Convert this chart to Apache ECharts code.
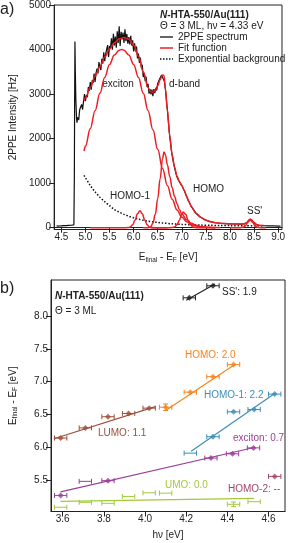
<!DOCTYPE html>
<html><head><meta charset="utf-8">
<script src="https://cdn.jsdelivr.net/npm/echarts@6/dist/echarts.min.js"></script>
<style>html,body{margin:0;padding:0;background:#fff}#c{width:288px;height:543px}</style>
</head><body><div id="c"></div>
<script>
const FONT = "'Liberation Sans', Arial, sans-serif";

// ---------- Panel a data (E_final - E_F [eV], intensity [Hz]) ----------
const spectrum = [
[4.40,40],[4.45,38],[4.50,42],[4.55,45],[4.60,48],[4.65,52],[4.70,55],[4.74,60],[4.76,65],[4.77,1200],[4.775,2800],[4.782,4180],[4.79,3500],[4.80,2900],[4.815,2450],[4.825,2360],[4.835,2480],
[4.84,2440],[4.86,2420],[4.88,2650],[4.90,2610],[4.92,2770],[4.94,2650],[4.96,2840],[4.98,3000],[5.00,2840],[5.02,2980],[5.04,2930],[5.06,3160],[5.08,3070],[5.10,3270],[5.12,3100],[5.14,3310],[5.16,3250],[5.18,3460],[5.20,3270],[5.22,3475],[5.24,3570],[5.26,3465],[5.28,3720],[5.30,3600],[5.32,3540],[5.34,3790],[5.36,3685],[5.38,3940],[5.40,3740],[5.42,3905],[5.44,3870],[5.46,4100],[5.48,3835],[5.50,4080],[5.52,4030],[5.54,4250],[5.56,3995],[5.58,4355],[5.60,4090],[5.62,4290],[5.64,4040],[5.66,4410],[5.68,4145],[5.70,4520],[5.72,4080],[5.74,4400],[5.76,4225],[5.78,4380],[5.80,4150],[5.82,4455],[5.84,4190],[5.86,4350],[5.88,4130],[5.90,4280],[5.92,4115],[5.94,4310],[5.96,4090],[5.98,4205],[6.00,3960],[6.02,4140],[6.04,3960],[6.06,4070],[6.08,3800],[6.10,3910],[6.12,3700],[6.14,3820],[6.16,3590],[6.18,3660],[6.20,3380],[6.22,3470],[6.24,3290],[6.26,3390],[6.28,3160],[6.30,3230],[6.32,3010],[6.34,3110],[6.36,2995],[6.38,3100],[6.40,2955],[6.42,3110],[6.44,3020],[6.46,3140],[6.48,3080],[6.50,3240],[6.52,3210],[6.54,3340],[6.56,3310],[6.58,3430],[6.60,3460],[6.62,3460],[6.64,3280],[6.66,3110],
[6.68,2880],[6.70,2650],[6.72,2400],[6.74,2160],[6.76,1950],[6.78,1770],[6.80,1620],[6.82,1500],[6.84,1400],[6.86,1300],[6.88,1210],[6.90,1140],[6.92,1090],[6.94,1050],[6.96,1010],[6.98,980],[7.00,950],[7.04,860],[7.08,760],[7.12,650],[7.16,560],[7.20,470],[7.25,390],[7.30,320],[7.35,270],[7.40,230],[7.45,195],[7.50,170],[7.60,135],[7.70,112],[7.80,100],[7.90,93],[8.00,88],[8.10,84],[8.20,82],[8.30,86],[8.35,110],[8.40,175],[8.42,190],[8.45,170],[8.50,110],[8.55,70],[8.60,52],[8.70,45],[8.80,42],[8.90,40],[9.00,38],[9.05,38]
];
const fitTotal = [[4.97,2850],[5.0,2915],[5.1,3150],[5.2,3400],[5.3,3620],[5.4,3830],[5.5,4010],[5.6,4150],[5.7,4240],[5.8,4270],[5.9,4230],[6.0,4100],[6.1,3850],[6.2,3500],[6.3,3150],[6.35,3050],[6.4,3035],[6.45,3085],[6.5,3190],[6.55,3320],[6.6,3430],[6.63,3420],[6.66,3120],[6.7,2650],[6.75,2060],[6.8,1640],[6.85,1360],[6.9,1160],[6.95,1040],[7.0,950],[7.05,840],[7.1,700],[7.15,580],[7.2,470],[7.3,320],[7.4,230],[7.5,170],[7.6,132],[7.7,110],[7.8,98],[8.0,88],[8.2,82],[8.3,88],[8.35,115],[8.4,180],[8.42,195],[8.45,175],[8.5,115],[8.55,72],[8.6,55],[8.7,48]];
const fitExciton = [[4.97,1720],[5.0,1832],[5.1,2224],[5.2,2628],[5.3,3020],[5.4,3374],[5.5,3667],[5.6,3877],[5.7,3986],[5.76,4000],[5.8,3986],[5.9,3877],[6.0,3667],[6.1,3374],[6.2,3020],[6.3,2628],[6.4,2200],[6.5,1760],[6.6,1330],[6.7,950],[6.8,640],[6.9,400],[7.0,240],[7.1,135],[7.2,72],[7.3,36],[7.4,17],[7.5,8],[7.6,3],[7.7,0]];
const fitDband = [[6.2,0],[6.3,2],[6.35,15],[6.4,100],[6.45,300],[6.5,650],[6.55,1100],[6.6,1550],[6.63,1700],[6.66,1640],[6.7,1420],[6.75,1150],[6.8,900],[6.85,700],[6.9,540],[6.95,410],[7.0,310],[7.1,180],[7.2,100],[7.3,55],[7.4,30],[7.5,15],[7.6,8],[7.7,3],[7.8,0]];
const fitHomo1 = [[5.1,0],[5.5,0],[5.85,2],[5.9,6],[5.93,17],[5.98,65],[6.03,174],[6.08,313],[6.13,380],[6.18,313],[6.23,174],[6.28,65],[6.33,17],[6.38,3],[6.45,0],[6.7,0]];
const fitHomo = [[6.35,0],[6.7,0],[6.8,3],[6.85,17],[6.9,65],[6.95,170],[7.0,300],[7.03,355],[7.08,300],[7.13,170],[7.18,65],[7.23,17],[7.28,3],[7.35,0],[7.7,0]];
const fitSS = [[8.0,0],[8.2,0],[8.27,8],[8.32,44],[8.37,124],[8.42,175],[8.47,124],[8.52,44],[8.57,8],[8.65,0],[8.75,0]];
const expBackground = [[4.97,1175],[5.0,1120],[5.1,950],[5.2,805],[5.3,685],[5.4,585],[5.5,495],[5.6,410],[5.7,350],[5.8,300],[5.9,258],[6.0,222],[6.1,192],[6.2,168],[6.3,148],[6.4,132],[6.5,118],[6.6,106],[6.8,88],[7.0,75],[7.2,66],[7.4,59],[7.6,54],[7.8,50],[8.0,47],[8.3,44],[8.7,41]];
const ticksAx = [4.5,5.0,5.5,6.0,6.5,7.0,7.5,8.0,8.5,9.0];
const ticksAy = [0,1000,2000,3000,4000,5000];
const legendNames = ['2PPE spectrum','Fit function','Exponential background'];

// ---------- Panel b data (hv [eV], E_final - E_F [eV]); [x, y, xerr, yerr] ----------
const lumoPts   = [[3.59,6.14,0.03,0],[3.71,6.295,0.03,0],[3.82,6.465,0.03,0],[3.92,6.515,0.03,0],[4.02,6.596,0.03,0]];
const lumoFit   = [[3.557,6.13],[4.05,6.62]];
const homoPts   = [[4.10,6.61,0.03,0.05],[4.22,6.84,0.03,0],[4.33,7.075,0.03,0],[4.43,7.26,0.03,0]];
const homoFit   = [[4.10,6.56],[4.44,7.27]];
const homo1Pts  = [[4.22,5.91,0.03,0],[4.33,6.16,0.03,0],[4.43,6.54,0.03,0],[4.53,6.575,0.03,0],[4.63,6.81,0.03,0]];
const homo1Fit  = [[4.224,5.94],[4.63,6.82]];
const excitonPts= [[3.59,5.265,0.03,0],[3.71,5.48,0.03,0],[3.82,5.49,0.03,0],[4.32,5.835,0.03,0],[4.425,5.90,0.03,0],[4.527,5.99,0.03,0]];
const excitonFit= [[3.589,5.32],[4.535,6.0]];
const homo2Pts  = [[4.63,5.555,0.03,0]];
const umoPts    = [[3.59,5.085,0.03,0],[3.71,5.16,0.03,0],[3.82,5.145,0.03,0],[3.92,5.25,0.03,0],[4.02,5.305,0.03,0],[4.10,5.30,0.03,0],[4.43,5.13,0.03,0.035],[4.53,5.17,0.03,0]];
const umoFit    = [[3.589,5.175],[4.53,5.22]];
const ssPts     = [[4.215,8.278,0.03,0],[4.33,8.462,0.03,0]];
const ssFit     = [[4.20,8.24],[4.34,8.49]];
// indices of points drawn with a filled marker
const lumoFilled = [0,1,2,3,4];
const homoFilled = [0,1,2,3];
const homo1Filled = [1,2,3,4];
const excitonFilled = [0,2,3,4,5];
const homo2Filled = [0];
const umoFilled = [];
const ssFilled = [0,1];
const ticksBx = [3.6,3.8,4.0,4.2,4.4,4.6];
const ticksBy = [5.5,6.0,6.5,7.0,7.5,8.0];

const RED = '#ee1d23';
const C = {lumo:'#9e4f3a', homo:'#f7831f', homo1:'#3d8db5', exciton:'#9a3f98', homo2:'#a0456a', umo:'#a3c93a', ss:'#222'};

const chart = echarts.init(document.getElementById('c'), null, {renderer:'canvas'});

const lineS = (data, color, w, extra) => Object.assign({type:'line', data, xAxisIndex:0, yAxisIndex:0, symbol:'none', showSymbol:false, lineStyle:{color, width:w}, itemStyle:{color}, animation:false}, extra||{});

function errSeries(points, color){
  return {
    type:'custom', xAxisIndex:1, yAxisIndex:1, data:points, animation:false, z:4,
    encode:{x:0, y:1},
    renderItem:function(params, api){
      const x=api.value(0), y=api.value(1), ex=api.value(2), ey=api.value(3);
      const c=api.coord([x,y]), l=api.coord([x-ex,y]), r=api.coord([x+ex,y]);
      const cap=2.5, st={stroke:color, lineWidth:1};
      const ch=[
        {type:'line', shape:{x1:l[0],y1:c[1],x2:r[0],y2:c[1]}, style:st},
        {type:'line', shape:{x1:l[0],y1:c[1]-cap,x2:l[0],y2:c[1]+cap}, style:st},
        {type:'line', shape:{x1:r[0],y1:c[1]-cap,x2:r[0],y2:c[1]+cap}, style:st}
      ];
      if (ey>0){
        const t=api.coord([x,y+ey]), b=api.coord([x,y-ey]);
        ch.push({type:'line', shape:{x1:c[0],y1:t[1],x2:c[0],y2:b[1]}, style:st});
        ch.push({type:'line', shape:{x1:c[0]-cap,y1:t[1],x2:c[0]+cap,y2:t[1]}, style:st});
        ch.push({type:'line', shape:{x1:c[0]-cap,y1:b[1],x2:c[0]+cap,y2:b[1]}, style:st});
      }
      return {type:'group', children:ch};
    }
  };
}
function markerSeries(points, idx, color){
  return {type:'scatter', xAxisIndex:1, yAxisIndex:1, data: idx.map(i=>[points[i][0], points[i][1]]),
    symbol:'diamond', symbolSize:6, itemStyle:{color}, animation:false, z:5};
}
function fitSeries(data, color){
  return {type:'line', xAxisIndex:1, yAxisIndex:1, data, symbol:'none', lineStyle:{color, width:1.2}, animation:false, z:3};
}
function group(pts, fit, filled, color){
  const out=[errSeries(pts,color), markerSeries(pts,filled,color)];
  if (fit) out.unshift(fitSeries(fit,color));
  return out;
}

const axisCommon = {
  axisLine:{show:true, lineStyle:{color:'#222', width:1}},
  splitLine:{show:false},
  axisTick:{show:true, inside:false, length:5, lineStyle:{color:'#222'}},
  axisLabel:{fontFamily:FONT, fontSize:10, color:'#222', margin:3}
};
const richSub = {
  n:{fontFamily:FONT, fontSize:10, color:'#222', lineHeight:12},
  s:{fontFamily:FONT, fontSize:6.5, color:'#222', verticalAlign:'bottom', lineHeight:8, padding:[4,0,0,0]}
};

const txt = (x,y,text,color,extra) => ({type:'text', x, y, silent:true, style:Object.assign({text, fill:color||'#222', font:'10px '+FONT, align:'left', verticalAlign:'middle'}, extra||{})});
const seg = (x1,y,x2,color,w,dash) => ({type:'line', silent:true, shape:{x1,y1:y,x2,y2:y}, style:{stroke:color, lineWidth:w, lineDash:dash||null}});
const titleRich = {i:{fontFamily:FONT, fontSize:10, fontWeight:'bold', fontStyle:'italic', fill:'#222'}, b:{fontFamily:FONT, fontSize:10, fontWeight:'bold', fill:'#222'}};

const option = {
  animation:false,
  backgroundColor:'#fff',
  grid:[
    {left:49.3, right:2.5, top:4, bottom:313.5, show:true, borderColor:'#222', borderWidth:1, backgroundColor:'transparent'},
    {left:49, right:3, top:280, bottom:31.5, show:true, borderColor:'#222', borderWidth:1, backgroundColor:'transparent'}
  ],
  xAxis:[
    Object.assign({}, axisCommon, {type:'value', gridIndex:0, min:4.35, max:9.08,
      axisTick:Object.assign({}, axisCommon.axisTick, {customValues:ticksAx}),
      axisLabel:Object.assign({}, axisCommon.axisLabel, {customValues:ticksAx, formatter:v=>v.toFixed(1)}),
      name:'{n|E}{s|final}{n| - E}{s|F}{n| [eV]}', nameLocation:'middle', nameGap:22,
      nameTextStyle:{rich:richSub}}),
    Object.assign({}, axisCommon, {type:'value', gridIndex:1, min:3.543, max:4.68,
      axisTick:Object.assign({}, axisCommon.axisTick, {customValues:ticksBx}),
      axisLabel:Object.assign({}, axisCommon.axisLabel, {customValues:ticksBx, formatter:v=>v.toFixed(1)}),
      name:'hν [eV]', nameLocation:'middle', nameGap:19,
      nameTextStyle:{fontFamily:FONT, fontSize:10, color:'#222'}})
  ],
  yAxis:[
    Object.assign({}, axisCommon, {type:'value', gridIndex:0, min:-40, max:5000,
      axisTick:Object.assign({}, axisCommon.axisTick, {customValues:ticksAy}),
      axisLabel:Object.assign({}, axisCommon.axisLabel, {customValues:ticksAy, formatter:v=>String(v)}),
      name:'2PPE Intensity [Hz]', nameLocation:'middle', nameGap:33,
      nameTextStyle:{fontFamily:FONT, fontSize:10, color:'#222'}}),
    Object.assign({}, axisCommon, {type:'value', gridIndex:1, min:5.02, max:8.55,
      axisTick:Object.assign({}, axisCommon.axisTick, {customValues:ticksBy}),
      axisLabel:Object.assign({}, axisCommon.axisLabel, {customValues:ticksBy, formatter:v=>v.toFixed(1)}),
      name:'{n|E}{s|final}{n| - E}{s|F}{n| [eV]}', nameLocation:'middle', nameGap:32,
      nameTextStyle:{rich:richSub}})
  ],
  series:[
    lineS(spectrum, '#111', 1.2, {name:legendNames[0], z:2}),
    lineS(expBackground, '#111', 1.5, {name:legendNames[2], lineStyle:{color:'#111', width:1.5, type:[1.5,1.8]}, z:3, smooth:0.3}),
    lineS(fitExciton, RED, 1.5, {z:4, smooth:0.4, smoothMonotone:'x'}),
    lineS(fitDband, RED, 1.5, {z:4, smooth:0.4, smoothMonotone:'x'}),
    lineS(fitHomo1, RED, 1.5, {z:4, smooth:0.4, smoothMonotone:'x'}),
    lineS(fitHomo, RED, 1.5, {z:4, smooth:0.4, smoothMonotone:'x'}),
    lineS(fitSS, RED, 1.5, {z:4, smooth:0.4, smoothMonotone:'x'}),
    lineS(fitTotal, RED, 1.5, {name:legendNames[1], z:5, smooth:0.4, smoothMonotone:'x'}),
    ...group(lumoPts, lumoFit, lumoFilled, C.lumo),
    ...group(homoPts, homoFit, homoFilled, C.homo),
    ...group(homo1Pts, homo1Fit, homo1Filled, C.homo1),
    ...group(excitonPts, excitonFit, excitonFilled, C.exciton),
    ...group(homo2Pts, null, homo2Filled, C.homo2),
    ...group(umoPts, umoFit, umoFilled, C.umo),
    ...group(ssPts, ssFit, ssFilled, C.ss)
  ],
  graphic:[
    txt(0, 10, 'a)', '#222', {font:'16px '+FONT}),
    txt(0, 289, 'b)', '#222', {font:'16px '+FONT}),
    txt(160, 15, '{i|N}{b|-HTA-550/Au(111)}', '#222', {rich:titleRich}),
    txt(160, 26, 'Θ = 3 ML, hν = 4.33 eV'),
    seg(160, 37, 173, '#111', 1.3),
    txt(178, 37, legendNames[0]),
    seg(160, 48, 173, RED, 1.5),
    txt(178, 48, legendNames[1]),
    seg(160, 59, 173, '#111', 1.5, [1.5,1.5]),
    txt(178, 59, legendNames[2]),
    txt(118, 84, 'exciton', '#222', {align:'center'}),
    txt(169, 84, 'd-band'),
    txt(110, 196, 'HOMO-1'),
    txt(193, 189, 'HOMO'),
    txt(247, 211, "SS'"),
    txt(55, 296, '{i|N}{b|-HTA-550/Au(111)}', '#222', {rich:titleRich}),
    txt(55, 311, 'Θ = 3 ML'),
    txt(222, 292, "SS': 1.9", C.ss),
    txt(185, 355, 'HOMO: 2.0', C.homo),
    txt(204, 395, 'HOMO-1: 2.2', C.homo1),
    txt(233, 438, 'exciton: 0.7', C.exciton),
    txt(98, 433, 'LUMO: 1.1', C.lumo),
    txt(165, 485, 'UMO: 0.0', C.umo),
    txt(228, 489, 'HOMO-2: --', C.homo2)
  ]
};
chart.setOption(option);
</script></body></html>
